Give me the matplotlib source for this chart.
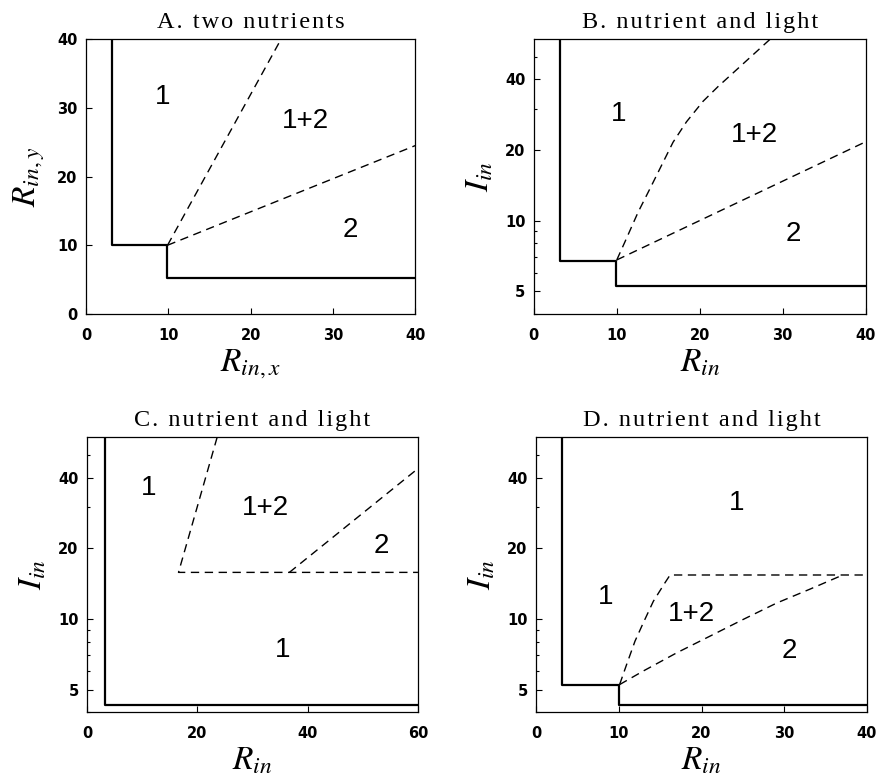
import numpy as np
import matplotlib
matplotlib.use("Agg")
import matplotlib.pyplot as plt
from matplotlib.ticker import FixedLocator, LogLocator, NullFormatter

plt.rcParams.update({
    'mathtext.fontset': 'stix',
    'font.family': 'Liberation Sans',
    'axes.linewidth': 0.9,
    'xtick.direction': 'in',
    'ytick.direction': 'in',
})

# ---- data ----
# A: two nutrients (linear axes)
a_solid_x = [3.1, 3.1, 9.8, 9.8, 40]
a_solid_y = [40, 10, 10, 5.3, 5.3]
a_dash1_x = [9.9, 23.7]
a_dash1_y = [10, 40]
a_dash2_x = [9.9, 40]
a_dash2_y = [10, 24.5]
a_labels = [("1", 9.3, 31.6), ("1+2", 26.6, 28.1), ("2", 32.1, 12.2)]

# B: nutrient and light (log y)
b_solid_x = [3.2, 3.2, 9.9, 9.9, 40]
b_solid_y = [59.5, 6.7, 6.7, 5.25, 5.25]
b_dash1_x = [10.0, 10.96, 12.57, 13.98, 15.39, 16.78, 18.4, 20.4, 22.2, 28.5]
b_dash1_y = [6.8, 8.09, 10.87, 13.65, 17.2, 21.6, 26.4, 32.3, 37.3, 59.5]
b_dash2_x = [10.0, 40]
b_dash2_y = [6.8, 21.7]
b_labels = [("1", 10.2, 28.6), ("1+2", 26.6, 23.2), ("2", 31.3, 8.8)]

# C: nutrient and light (log y)
c_solid_x = [3.3, 3.3, 60]
c_solid_y = [59.5, 4.3, 4.3]
c_dash1_x = [23.6, 16.6, 60]
c_dash1_y = [59.5, 15.8, 15.8]
c_dash2_x = [36.7, 59.8]
c_dash2_y = [15.8, 43.4]
c_labels = [("1", 11.2, 36.2), ("1+2", 32.3, 29.7), ("2", 53.3, 20.4), ("1", 35.5, 7.4)]

# D: nutrient and light (log y)
d_solid_x = [3.15, 3.15, 10.0, 10.0, 40]
d_solid_y = [59.5, 5.22, 5.22, 4.3, 4.3]
d_dash1_x = [10.1, 10.96, 11.96, 12.97, 14.18, 15.6, 16.2, 16.6, 39.8]
d_dash1_y = [5.25, 6.41, 8.04, 9.64, 11.9, 14.3, 15.4, 15.4, 15.4]
d_dash2_x = [10.1, 12.97, 17.0, 21.0, 25.05, 29.1, 33.1, 36.7]
d_dash2_y = [5.25, 6.0, 7.17, 8.44, 9.96, 11.7, 13.4, 15.2]
d_labels = [("1", 24.2, 31.2), ("1", 8.4, 12.4), ("1+2", 18.8, 10.5), ("2", 30.6, 7.3)]

titles = ["A. two nutrients", "B. nutrient and light",
          "C. nutrient and light", "D. nutrient and light"]

fig = plt.figure(figsize=(8.78, 7.81), dpi=100)
axA = fig.add_axes([0.098, 0.598, 0.375, 0.352])
axB = fig.add_axes([0.608, 0.598, 0.378, 0.352])
axC = fig.add_axes([0.099, 0.088, 0.377, 0.352])
axD = fig.add_axes([0.6105, 0.088, 0.377, 0.352])

dash = (0, (6, 4))
tick_font = dict(fontsize=10.5, fontweight='bold', family='DejaVu Sans')


def spaced(s):
    # the printed titles are slightly letter-spaced (hair space between glyphs)
    return '\u200a'.join(s)


def style(ax, title, xlab, ylab, xticks):
    ax.set_title(spaced(title), family=['Liberation Serif', 'DejaVu Serif'],
                 fontsize=17.5, pad=8)
    ax.set_xlabel(xlab, fontsize=24, labelpad=3)
    ax.set_ylabel(ylab, fontsize=24, labelpad=7)
    ax.set_xticks(xticks)
    ax.set_xticklabels([str(t) for t in xticks], **tick_font)
    ax.tick_params(axis='x', length=4, width=0.8, pad=10)
    ax.tick_params(axis='y', which='both', width=0.8, pad=6)
    ax.tick_params(axis='y', which='major', length=4)
    ax.tick_params(axis='y', which='minor', length=2.5)
    ax.tick_params(top=False, right=False)


def log_y(ax):
    ax.set_yscale('log')
    ax.set_ylim(4.0, 59.5)
    ax.yaxis.set_major_locator(FixedLocator([5, 10, 20, 40]))
    ax.set_yticklabels(['5', '10', '20', '40'], **tick_font)
    ax.yaxis.set_minor_locator(LogLocator(base=10, subs=np.arange(2, 10)))
    ax.yaxis.set_minor_formatter(NullFormatter())


def put_labels(ax, labels):
    for txt, x, y in labels:
        ax.text(x, y, txt, fontsize=20, ha='center', va='center')


# A
axA.plot(a_solid_x, a_solid_y, color='black', lw=1.6)
axA.plot(a_dash1_x, a_dash1_y, color='black', lw=1.0, ls=dash)
axA.plot(a_dash2_x, a_dash2_y, color='black', lw=1.0, ls=dash)
axA.set_xlim(0, 40)
axA.set_ylim(0, 40)
axA.set_yticks([0, 10, 20, 30, 40])
axA.set_yticklabels(['0', '10', '20', '30', '40'], **tick_font)
put_labels(axA, a_labels)
style(axA, titles[0], r'$R_{in,x}$', r'$R_{in,y}$', [0, 10, 20, 30, 40])

# B
axB.plot(b_solid_x, b_solid_y, color='black', lw=1.6)
axB.plot(b_dash1_x, b_dash1_y, color='black', lw=1.0, ls=dash)
axB.plot(b_dash2_x, b_dash2_y, color='black', lw=1.0, ls=dash)
axB.set_xlim(0, 40)
log_y(axB)
put_labels(axB, b_labels)
style(axB, titles[1], r'$R_{in}$', r'$I_{in}$', [0, 10, 20, 30, 40])

# C
axC.plot(c_solid_x, c_solid_y, color='black', lw=1.6)
axC.plot(c_dash1_x, c_dash1_y, color='black', lw=1.0, ls=dash)
axC.plot(c_dash2_x, c_dash2_y, color='black', lw=1.0, ls=dash)
axC.set_xlim(0, 60)
log_y(axC)
put_labels(axC, c_labels)
style(axC, titles[2], r'$R_{in}$', r'$I_{in}$', [0, 20, 40, 60])

# D
axD.plot(d_solid_x, d_solid_y, color='black', lw=1.6)
axD.plot(d_dash1_x, d_dash1_y, color='black', lw=1.0, ls=dash)
axD.plot(d_dash2_x, d_dash2_y, color='black', lw=1.0, ls=dash)
axD.set_xlim(0, 40)
log_y(axD)
put_labels(axD, d_labels)
style(axD, titles[3], r'$R_{in}$', r'$I_{in}$', [0, 10, 20, 30, 40])

fig.savefig('out.png', dpi=100)
